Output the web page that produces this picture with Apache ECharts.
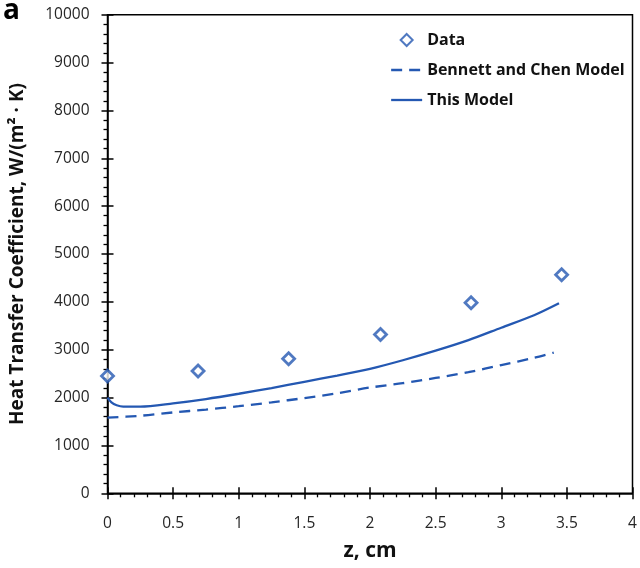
<!DOCTYPE html>
<html>
<head>
<meta charset="utf-8">
<script src="https://cdn.jsdelivr.net/npm/echarts@6/dist/echarts.min.js"></script>
<style>
  html, body { margin: 0; padding: 0; background: #fff; }
  #chart { width: 640px; height: 568px; }
</style>
</head>
<body>
<div id="chart"></div>
<script>
// Measured heat transfer coefficients along z (cm, W/(m²·K))
const dataZ = [0, 0.69, 1.38, 2.08, 2.77, 3.46];
const dataH = [2450, 2555, 2810, 3320, 3980, 4565];

// Bennett and Chen correlation
const bcZ = [0, 0.25, 0.5, 0.75, 1.0, 1.25, 1.5, 1.75, 2.0, 2.25, 2.5, 2.75, 3.0, 3.25, 3.4];
const bcH = [1580, 1620, 1690, 1750, 1820, 1900, 1990, 2090, 2210, 2300, 2410, 2530, 2680, 2830, 2940];

// Present model
const modelZ = [0, 0.03, 0.07, 0.12, 0.25, 0.5, 0.75, 1.0, 1.25, 1.5, 1.75, 2.0, 2.25, 2.5, 2.75, 3.0, 3.25, 3.44];
const modelH = [2000, 1900, 1840, 1812, 1812, 1880, 1970, 2080, 2200, 2330, 2460, 2600, 2780, 2980, 3200, 3460, 3720, 3970];

const BLUE = '#2458b2';
const FONT = '"Open Sans", "Noto Sans", sans-serif';
const DIAMOND = 'path://M10,0L20,10L10,20L0,10Z';
const DASHED = { color: BLUE, width: 2.3, type: [11, 7] };
const SOLID = { color: BLUE, width: 2.3, type: 'solid' };
// line-only legend entries: hide the marker drawn over the line sample
const NO_MARKER = { color: 'rgba(0,0,0,0)', borderColor: 'rgba(0,0,0,0)', borderWidth: 0 };

const pairs = (xs, ys) => xs.map((x, i) => [x, ys[i]]);

const chart = echarts.init(document.getElementById('chart'), null, { renderer: 'canvas' });

const baseX = { type: 'value', min: 0, max: 4, interval: 0.5 };
const baseY = { type: 'value', min: 0, max: 10000, interval: 1000 };

chart.setOption({
  animation: false,
  backgroundColor: '#fff',
  textStyle: { fontFamily: FONT },
  graphic: [{
    type: 'text', left: 3, top: -3,
    style: { text: 'a', font: 'bold 28px ' + FONT, fill: '#000' }
  }],
  grid: {
    left: 107.5, right: 7.5, top: 14.7, bottom: 74.7,
    show: true, borderColor: '#000', borderWidth: 1.5, backgroundColor: 'transparent'
  },
  legend: {
    orient: 'vertical', left: 385, top: 27, itemWidth: 31, itemHeight: 12, itemGap: 14,
    symbolKeepAspect: true,
    textStyle: { fontFamily: FONT, fontWeight: 'bold', fontSize: 16, color: '#111', padding: [2, 0, 2, 0] },
    data: [
      { name: 'Data', icon: DIAMOND },
      { name: 'Bennett and Chen Model', icon: 'inherit', itemStyle: NO_MARKER, lineStyle: DASHED },
      { name: 'This Model', icon: 'inherit', itemStyle: NO_MARKER, lineStyle: SOLID }
    ]
  },
  xAxis: [
    Object.assign({}, baseX, {
      name: 'z, cm', nameLocation: 'middle', nameGap: 47,
      nameTextStyle: { fontFamily: FONT, fontWeight: 'bold', fontSize: 21, color: '#111' },
      axisLine: { show: true, onZero: false, lineStyle: { color: '#000', width: 1.5 } },
      axisTick: { show: true, inside: false, length: 6, lineStyle: { color: '#000', width: 1.5 } },
      minorTick: { show: true, splitNumber: 5, length: 4, lineStyle: { color: '#000', width: 1.3 } },
      splitLine: { show: false },
      axisLabel: { fontFamily: FONT, fontSize: 15.5, color: '#262626', margin: 22,
        formatter: v => String(+v.toFixed(1)) }
    }),
    Object.assign({}, baseX, {
      position: 'bottom',
      axisLine: { show: false },
      axisTick: { show: true, inside: true, length: 6, lineStyle: { color: '#000', width: 1.5 } },
      axisLabel: { show: false }, splitLine: { show: false }
    })
  ],
  yAxis: [
    Object.assign({}, baseY, {
      name: 'Heat Transfer Coefficient, W/(m² · K)', nameLocation: 'middle', nameGap: 80,
      nameRotate: 90,
      nameTextStyle: { fontFamily: FONT, fontWeight: 'bold', fontSize: 19, color: '#111' },
      axisLine: { show: true, onZero: false, lineStyle: { color: '#000', width: 1.5 } },
      axisTick: { show: true, inside: false, length: 6, lineStyle: { color: '#000', width: 1.5 } },
      minorTick: { show: true, splitNumber: 5, length: 4, lineStyle: { color: '#000', width: 1.3 } },
      splitLine: { show: false },
      axisLabel: { fontFamily: FONT, fontSize: 15.5, color: '#262626', margin: 18,
        formatter: v => String(v) }
    }),
    Object.assign({}, baseY, {
      position: 'left',
      axisLine: { show: false },
      axisTick: { show: true, inside: true, length: 6, lineStyle: { color: '#000', width: 1.5 } },
      axisLabel: { show: false }, splitLine: { show: false }
    })
  ],
  series: [
    {
      name: 'Data', type: 'scatter', clip: false,
      symbol: 'diamond', symbolSize: 12,
      itemStyle: { color: '#fff', borderColor: BLUE, borderWidth: 2.8 },
      data: pairs(dataZ, dataH), z: 5
    },
    {
      name: 'Bennett and Chen Model', type: 'line', showSymbol: false, symbol: 'none',
      smooth: 0.3,
      lineStyle: DASHED,
      itemStyle: { color: BLUE },
      data: pairs(bcZ, bcH)
    },
    {
      name: 'This Model', type: 'line', showSymbol: false, symbol: 'none',
      smooth: 0.3,
      lineStyle: SOLID,
      itemStyle: { color: BLUE },
      data: pairs(modelZ, modelH)
    }
  ]
});
</script>
</body>
</html>
